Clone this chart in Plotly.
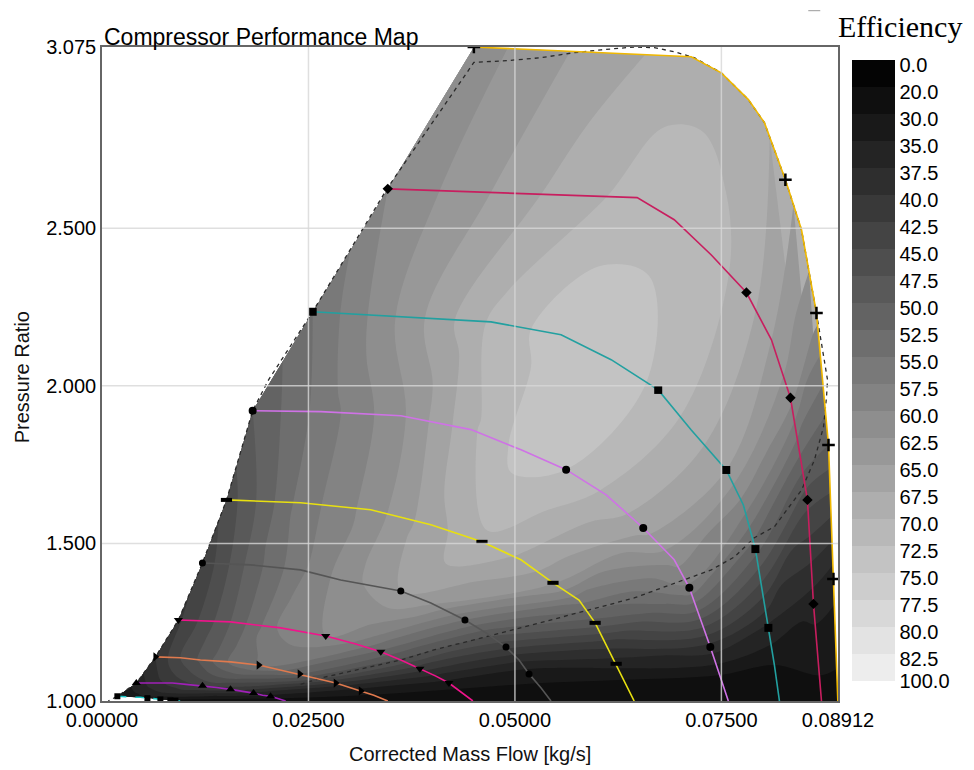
import numpy as np
import plotly.graph_objects as go

# ---------------------------------------------------------------------------
# Efficiency levels used for the filled contours (non-uniform spacing)
eff_levels = [0.0, 20.0, 30.0, 35.0, 37.5, 40.0, 42.5, 45.0, 47.5, 50.0, 52.5,
              55.0, 57.5, 60.0, 62.5, 65.0, 67.5, 70.0, 72.5, 75.0, 77.5, 80.0,
              82.5, 100.0]

x_tick_vals = [0.0, 0.025, 0.05, 0.075, 0.08912]
x_tick_text = ["0.00000", "0.02500", "0.05000", "0.07500", "0.08912"]
y_tick_vals = [1.0, 1.5, 2.0, 2.5, 3.075]
y_tick_text = ["1.000", "1.500", "2.000", "2.500", "3.075"]

# Speed lines, lowest to highest speed (13 points each, surge -> PR = 1).
# flow = corrected mass flow [kg/s], pr = pressure ratio, eff = efficiency [%]
flow_n1 = [0.00186, 0.00259, 0.00343, 0.00404, 0.00465, 0.00550, 0.00598, 0.00647, 0.00707, 0.00768, 0.00828, 0.00889, 0.00950]
pr_n1 = [1.015, 1.015, 1.013, 1.012, 1.012, 1.009, 1.009, 1.007, 1.005, 1.004, 1.002, 1.001, 1.000]
eff_n1 = [30, 31, 32, 33, 33, 33, 32, 32, 31, 30, 28, 27, 25]

flow_n2 = [0.00416, 0.00647, 0.00853, 0.01047, 0.01217, 0.01386, 0.01556, 0.01702, 0.01835, 0.01944, 0.02041, 0.02138, 0.02224]
pr_n2 = [1.057, 1.057, 1.057, 1.052, 1.048, 1.043, 1.037, 1.031, 1.025, 1.018, 1.015, 1.007, 1.000]
eff_n2 = [36, 39, 41, 42, 43, 42, 41, 39, 37, 35, 33, 29, 25]

flow_n3 = [0.00647, 0.00950, 0.01193, 0.01557, 0.01897, 0.02163, 0.02394, 0.02624, 0.02830, 0.02988, 0.03134, 0.03291, 0.03460]
pr_n3 = [1.140, 1.137, 1.130, 1.124, 1.114, 1.098, 1.086, 1.070, 1.057, 1.044, 1.032, 1.018, 1.000]
eff_n3 = [40, 45, 48, 53, 55, 53, 50, 45, 40, 36, 33, 29, 25]

flow_n4 = [0.00925, 0.01556, 0.02163, 0.02709, 0.03073, 0.03376, 0.03618, 0.03849, 0.04043, 0.04201, 0.04298, 0.04395, 0.04491]
pr_n4 = [1.257, 1.251, 1.232, 1.206, 1.181, 1.156, 1.130, 1.102, 1.079, 1.057, 1.038, 1.019, 1.000]
eff_n4 = [42, 50, 58, 60, 57, 52, 47, 41, 37, 33, 30, 27, 25]

flow_n5 = [0.01216, 0.01798, 0.02405, 0.02890, 0.03618, 0.03982, 0.04395, 0.04650, 0.04892, 0.05050, 0.05171, 0.05317, 0.05437]
pr_n5 = [1.438, 1.432, 1.416, 1.384, 1.349, 1.311, 1.257, 1.216, 1.171, 1.130, 1.086, 1.041, 1.000]
eff_n5 = [43, 51, 57, 61, 65, 63, 55, 49, 43, 38, 32, 28, 25]

flow_n6 = [0.01507, 0.02405, 0.03254, 0.03982, 0.04601, 0.05073, 0.05461, 0.05776, 0.05971, 0.06104, 0.06226, 0.06335, 0.06444]
pr_n6 = [1.638, 1.629, 1.607, 1.559, 1.505, 1.448, 1.375, 1.320, 1.248, 1.178, 1.118, 1.060, 1.000]
eff_n6 = [46, 56, 61, 66.5, 69.5, 67, 63, 56, 49, 41, 36, 28, 25]

flow_n7 = [0.01824, 0.02649, 0.03619, 0.04468, 0.05074, 0.05620, 0.06105, 0.06554, 0.06929, 0.07112, 0.07366, 0.07475, 0.07584]
pr_n7 = [1.921, 1.918, 1.905, 1.861, 1.797, 1.734, 1.654, 1.549, 1.448, 1.359, 1.171, 1.082, 1.000]
eff_n7 = [50, 56, 62, 69.5, 73.5, 72.5, 69.5, 66, 61, 57, 39, 30, 25]

flow_n8 = [0.02551, 0.03618, 0.04710, 0.05559, 0.06165, 0.06735, 0.07135, 0.07559, 0.07766, 0.07912, 0.08069, 0.08142, 0.08203]
pr_n8 = [2.235, 2.219, 2.203, 2.162, 2.083, 1.987, 1.860, 1.733, 1.622, 1.482, 1.232, 1.114, 1.000]
eff_n8 = [55, 63, 70.5, 74, 74, 72, 69, 65, 59, 51, 37, 30, 25]

flow_n9 = [0.03460, 0.04466, 0.05558, 0.06480, 0.06929, 0.07378, 0.07803, 0.08106, 0.08336, 0.08434, 0.08542, 0.08615, 0.08712]
pr_n9 = [2.625, 2.616, 2.604, 2.597, 2.527, 2.415, 2.296, 2.146, 1.962, 1.813, 1.638, 1.308, 1.000]
eff_n9 = [60, 64, 68.5, 71, 71.5, 71, 69, 65, 61, 54, 46, 36, 25]

flow_n10 = [0.04503, 0.05316, 0.06202, 0.07135, 0.07499, 0.07827, 0.08021, 0.08275, 0.08470, 0.08651, 0.08797, 0.08857, 0.08910]
pr_n10 = [3.075, 3.066, 3.055, 3.044, 2.993, 2.908, 2.835, 2.654, 2.495, 2.231, 1.812, 1.387, 1.000]
eff_n10 = [61, 64, 66.5, 69, 69, 68.5, 68, 66, 64, 61, 50, 36, 25]

# Points of each speed line that carry a marker
marks_n1 = [0, 5, 8, 10, 11]
marks_n2 = [0, 4, 6, 8, 10]
marks_n3 = [0, 4, 6, 8, 10]
marks_n4 = [0, 3, 5, 7, 9]
marks_n5 = [0, 4, 6, 8, 10]
marks_n6 = [0, 4, 6, 8, 10]
marks_n7 = [0, 5, 7, 9, 10]
marks_n8 = [0, 5, 7, 9, 10]
marks_n9 = [0, 6, 8, 10, 11]
marks_n10 = [0, 7, 9, 10, 11]

# Operating envelope (dashed)
env_flow = [0.02405, 0.02684, 0.03618, 0.04018, 0.04746, 0.05073, 0.06044, 0.06444,
            0.07050, 0.07378, 0.07657, 0.07899, 0.08142, 0.08470, 0.08627, 0.08737,
            0.08773, 0.08785, 0.08651, 0.08470, 0.08275, 0.08021, 0.07827, 0.07499,
            0.07172, 0.06929, 0.06687, 0.06444, 0.06044, 0.05717, 0.05316, 0.04916,
            0.04503, 0.03460, 0.02551, 0.02017, 0.01824, 0.01507, 0.01216, 0.00925,
            0.00647, 0.00416, 0.00186, 0.00076]
env_pr = [1.053, 1.075, 1.130, 1.162, 1.210, 1.232, 1.299, 1.327,
          1.384, 1.416, 1.457, 1.518, 1.553, 1.669, 1.765, 1.870,
          1.965, 2.019, 2.231, 2.495, 2.654, 2.835, 2.908, 2.993,
          3.041, 3.060, 3.073, 3.075, 3.066, 3.057, 3.041, 3.032,
          3.026, 2.629, 2.235, 2.019, 1.921, 1.637, 1.438, 1.257,
          1.140, 1.057, 1.015, 1.000]

# ---------------------------------------------------------------------------
speed_lines = [
    (flow_n1, pr_n1, eff_n1, marks_n1, "#19c4c4", "square", 6, "dash"),
    (flow_n2, pr_n2, eff_n2, marks_n2, "#a020b8", "triangle-up", 8, "solid"),
    (flow_n3, pr_n3, eff_n3, marks_n3, "#e07a4e", "triangle-right", 8, "solid"),
    (flow_n4, pr_n4, eff_n4, marks_n4, "#f0148c", "triangle-down", 8, "solid"),
    (flow_n5, pr_n5, eff_n5, marks_n5, "#555555", "circle", 7, "solid"),
    (flow_n6, pr_n6, eff_n6, marks_n6, "#e8e010", "line-ew", 8, "solid"),
    (flow_n7, pr_n7, eff_n7, marks_n7, "#cf72e6", "circle", 8, "solid"),
    (flow_n8, pr_n8, eff_n8, marks_n8, "#22a0a0", "square", 8, "solid"),
    (flow_n9, pr_n9, eff_n9, marks_n9, "#c81e5f", "diamond", 8, "solid"),
    (flow_n10, pr_n10, eff_n10, marks_n10, "#f0b800", "cross-thin", 9, "solid"),
]

# grey value of each efficiency band, darkest (0-20) to lightest (82.5-100)
n_bands = len(eff_levels) - 1
band_grey = [int(round(4 + 10.6 * k)) for k in range(n_bands)]


def grey(v):
    return f"rgb({v},{v},{v})"


# Efficiency is mapped onto band-index space so the uneven levels become
# evenly spaced contour steps; the sign flip puts 0 % at the top of the bar.
level_index = np.arange(len(eff_levels), dtype=float)


def to_z(eff):
    return -np.interp(eff, eff_levels, level_index)


a_flat, b_flat, x_flat, y_flat, z_flat = [], [], [], [], []
for i, (fl, pr, ef, *_rest) in enumerate(speed_lines):
    for j in range(len(fl)):
        a_flat.append(i + 1)
        b_flat.append(j)
        x_flat.append(fl[j])
        y_flat.append(pr[j])
        z_flat.append(float(to_z(ef[j])))

# contour fill colours: evaluated at band midpoints (-22.5 ... -0.5)
fill_scale = [[i / (n_bands - 1), grey(band_grey[n_bands - 1 - i])] for i in range(n_bands)]

# stepped colour scale for the colour bar on [-23, 0]
bar_scale = []
for k in range(n_bands - 1, -1, -1):
    lo = (n_bands - 1 - k) / n_bands
    hi = (n_bands - k) / n_bands
    bar_scale.append([lo, grey(band_grey[k])])
    bar_scale.append([hi, grey(band_grey[k])])

# colour-bar label positions: just below each band edge, last one at the bar end
bar_tick_pos = [-k - 0.18 for k in range(n_bands)] + [-n_bands]

hidden_axis = dict(showgrid=False, showline=False, showticklabels="none",
                   startline=False, endline=False, minorgridcount=0,
                   smoothing=0, title=dict(text=""))

fig = go.Figure()

fig.add_trace(go.Carpet(
    a=a_flat, b=b_flat, x=x_flat, y=y_flat, carpet="map",
    aaxis=hidden_axis, baxis=hidden_axis,
))

fig.add_trace(go.Contourcarpet(
    a=a_flat, b=b_flat, z=z_flat, carpet="map",
    autocontour=False,
    contours=dict(start=-(n_bands - 1), end=-1, size=1, coloring="fill", showlines=False),
    colorscale=fill_scale, line=dict(width=0), showscale=False,
))

fig.add_trace(go.Scatter(
    x=env_flow, y=env_pr, mode="lines",
    line=dict(color="#2a2a2a", width=1.3, dash="4px,4px"),
    hoverinfo="skip", showlegend=False,
))

for fl, pr, ef, marks, col, sym, msize, dash in speed_lines:
    fig.add_trace(go.Scatter(
        x=fl, y=pr, mode="lines",
        line=dict(color=col, width=1.6, dash=dash),
        hoverinfo="skip", showlegend=False,
    ))
    mk = dict(symbol=sym, size=msize, color="black")
    if sym in ("cross-thin", "line-ew"):
        mk["line"] = dict(color="black", width=2.5 if sym == "cross-thin" else 4)
    fig.add_trace(go.Scatter(
        x=[fl[k] for k in marks], y=[pr[k] for k in marks], mode="markers",
        marker=mk, hoverinfo="skip", showlegend=False,
    ))

# colour bar
fig.add_trace(go.Scatter(
    x=[0.0], y=[0.0], mode="markers", hoverinfo="skip", showlegend=False,
    marker=dict(
        color=[0.0], colorscale=bar_scale, cmin=-n_bands, cmax=0, showscale=True, size=1,
        colorbar=dict(
            x=1.019, xanchor="left", xpad=0, y=0.9806, yanchor="top", ypad=0,
            len=621, lenmode="pixels", thickness=43, thicknessmode="pixels",
            outlinewidth=0, ticks="",
            tickvals=bar_tick_pos,
            ticktext=[f"{v:.1f}" for v in eff_levels],
            tickfont=dict(family="Liberation Sans", size=20, color="black"),
        ),
    ),
))

# grid lines drawn over the filled map
grid_style = dict(color="rgba(215,215,215,0.8)", width=1.5)
shapes = []
for xv in x_tick_vals[1:-1]:
    shapes.append(dict(type="line", xref="x", yref="paper", x0=xv, x1=xv, y0=0, y1=1,
                       line=grid_style, layer="above"))
for yv in y_tick_vals[1:-1]:
    shapes.append(dict(type="line", xref="paper", yref="y", x0=0, x1=1, y0=yv, y1=yv,
                       line=grid_style, layer="above"))
shapes.append(dict(type="line", xref="paper", yref="paper", x0=0.9596, x1=0.9759,
                   y0=1.0555, y1=1.0555, line=dict(color="#9a9a9a", width=1)))

axis_font = dict(family="Liberation Sans", size=20, color="black")

fig.update_layout(
    width=974, height=770,
    margin=dict(l=101.7, r=136.3, t=47.3, b=69.3),
    paper_bgcolor="white", plot_bgcolor="white",
    showlegend=False,
    shapes=shapes,
    xaxis=dict(range=[x_tick_vals[0], x_tick_vals[-1]], tickvals=x_tick_vals, ticktext=x_tick_text,
               showgrid=False, zeroline=False, showline=True, mirror=True,
               linecolor="#666666", linewidth=1.5, ticks="", tickfont=axis_font),
    yaxis=dict(range=[y_tick_vals[0], y_tick_vals[-1]], tickvals=y_tick_vals, ticktext=y_tick_text,
               showgrid=False, zeroline=False, showline=True, mirror=True,
               linecolor="#666666", linewidth=1.5, ticks="", tickfont=axis_font),
    annotations=[
        dict(text="Compressor Performance Map", xref="paper", yref="paper", x=0, y=1,
             xanchor="left", yanchor="bottom", yshift=-5, showarrow=False,
             font=dict(family="Liberation Sans", size=23, color="black")),
        dict(text="Corrected Mass Flow [kg/s]", xref="paper", yref="paper", x=0.5, y=-0.0816,
             xanchor="center", yanchor="middle", showarrow=False,
             font=dict(family="Liberation Sans", size=20, color="#111111")),
        dict(text="Pressure Ratio", xref="paper", yref="paper", x=-0.1083, y=0.4954,
             xanchor="center", yanchor="middle", textangle=-90, showarrow=False,
             font=dict(family="Liberation Sans", size=20, color="#111111")),
        dict(text="Efficiency", xref="paper", yref="paper", x=1.0847, y=1.031,
             xanchor="center", yanchor="middle", showarrow=False,
             font=dict(family="Liberation Serif", size=30, color="black")),
    ],
)

fig.write_html("out.html")
